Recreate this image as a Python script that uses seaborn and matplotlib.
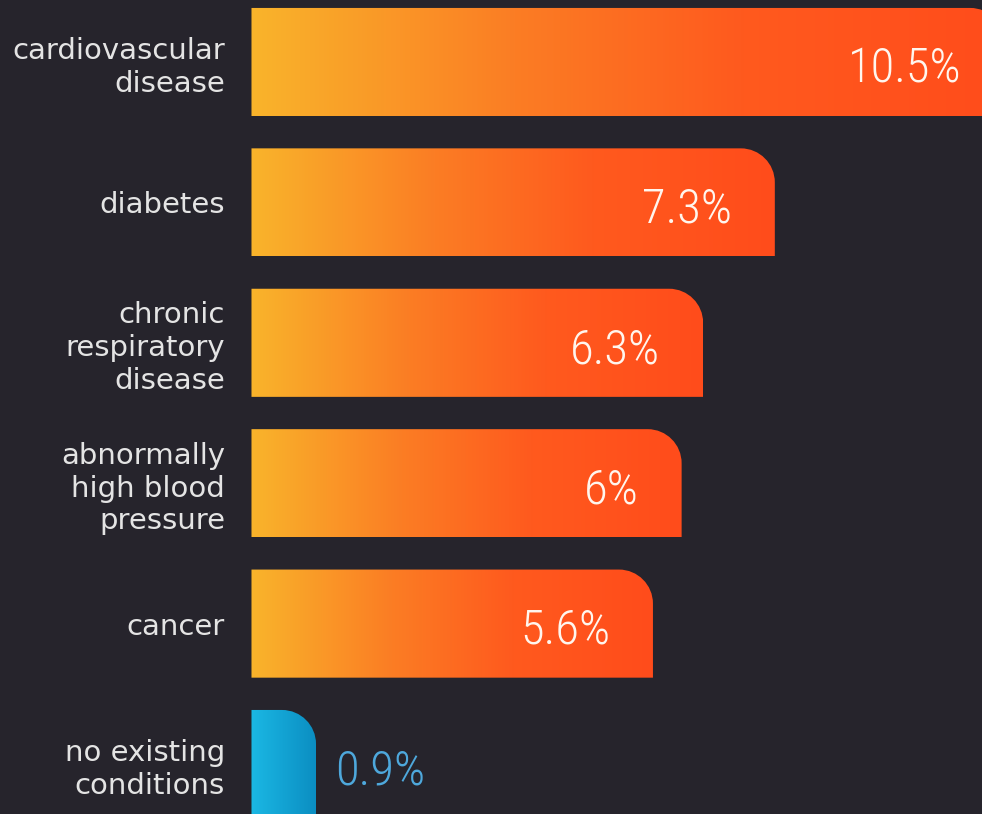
import numpy as np
import matplotlib.pyplot as plt
import seaborn as sns
from matplotlib import font_manager
from matplotlib.path import Path
from matplotlib.patches import PathPatch
from matplotlib.colors import LinearSegmentedColormap

# data
categories = ["cardiovascular\ndisease", "diabetes", "chronic\nrespiratory\ndisease",
              "abnormally\nhigh blood\npressure", "cancer", "no existing\nconditions"]
values = [10.5, 7.3, 6.3, 6.0, 5.6, 0.9]
value_labels = ["10.5%", "7.3%", "6.3%", "6%", "5.6%", "0.9%"]
is_none = [False, False, False, False, False, True]

bg = "#26242c"
orange = LinearSegmentedColormap.from_list(
    "orange", [(0, "#f9b42b"), (0.35, "#fb7d24"), (0.65, "#ff5a1e"), (1, "#ff4c1b")])
blue = LinearSegmentedColormap.from_list("blue", ["#1bb8e4", "#0b8ec2"])

# pick a narrow font for the numbers if one is there
fonts = font_manager.fontManager.ttflist
names = {f.name for f in fonts}
num_font, num_stretch, num_weight = "DejaVu Sans", "normal", "normal"
for cand in ["Roboto Condensed", "DejaVu Sans Condensed", "Liberation Sans Narrow"]:
    if cand in names:
        num_font = cand
        break
else:
    if any(f.name == "DejaVu Sans" and f.stretch == "condensed" for f in fonts):
        num_stretch = "condensed"
if any(f.name == num_font and f.weight in (300, "light") for f in fonts):
    num_weight = "light"

sns.set_theme(style="dark")
plt.rcParams['font.family'] = ['DejaVu Sans']

fig = plt.figure(figsize=(9.82, 8.14), dpi=100, facecolor=bg)
ax = fig.add_axes([0.2561, 0, 0.7439, 1])
ax.set_facecolor(bg)

sns.barplot(x=values, y=categories, orient="h", width=0.77, color="gray", ax=ax)

xmax = 10.19
ylims = (5.356, -0.4416)
ax.set_xlim(0, xmax)
ax.set_ylim(*ylims)

# rounded corner radius, in pixels -> data units
ax_w = 982 * 0.7439
ax_h = 814
r_px = 34
rx = r_px * xmax / ax_w
ry = r_px * (ylims[0] - ylims[1]) / ax_h
k = 0.5523

for i, p in enumerate(ax.patches):
    x0, w, y0, h = p.get_x(), p.get_width(), p.get_y(), p.get_height()
    p.set_visible(False)
    x1 = x0 + w
    top, bottom = y0, y0 + h
    verts = [(x0, bottom), (x1, bottom), (x1, top + ry),
             (x1, top + ry - k * ry), (x1 - rx + k * rx, top), (x1 - rx, top),
             (x0, top), (x0, bottom)]
    codes = [Path.MOVETO, Path.LINETO, Path.LINETO,
             Path.CURVE4, Path.CURVE4, Path.CURVE4,
             Path.LINETO, Path.CLOSEPOLY]
    clip = PathPatch(Path(verts, codes), facecolor="none", edgecolor="none",
                     transform=ax.transData)
    ax.add_patch(clip)
    im = ax.imshow(np.linspace(0, 1, 256).reshape(1, -1),
                   cmap=blue if is_none[i] else orange,
                   extent=[x0, x1, bottom, top], aspect="auto",
                   interpolation="bicubic", zorder=2)
    im.set_clip_path(clip)

    yc = y0 + h / 2
    if is_none[i]:
        ax.text(x1 + 0.27, yc + 0.05, value_labels[i], ha="left", va="center",
                color="#4ea8dc", fontsize=35, family=num_font, fontweight=num_weight,
                fontstretch=num_stretch, zorder=3)
    else:
        ax.text(x1 - 0.6, yc + 0.05, value_labels[i], ha="right", va="center",
                color="#fff6ee", fontsize=35, family=num_font, fontweight=num_weight,
                fontstretch=num_stretch, zorder=3)

ax.set_xlim(0, xmax)
ax.set_ylim(*ylims)
ax.set_xticks([])
ax.set_xlabel("")
ax.set_ylabel("")
ax.tick_params(axis="y", length=0, pad=19, labelsize=21, labelcolor="#e4e4e4")
for lab in ax.get_yticklabels():
    lab.set_linespacing(1.22)
for s in ax.spines.values():
    s.set_visible(False)
ax.grid(False)

fig.savefig("out.png", dpi=100, facecolor=bg)
